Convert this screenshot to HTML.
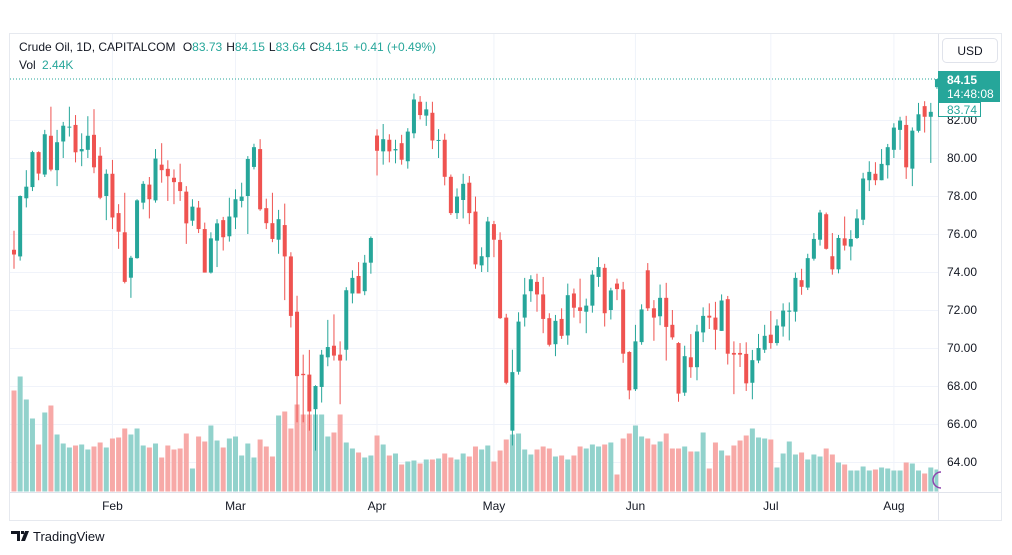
<!DOCTYPE html>
<html><head><meta charset="utf-8">
<style>
body{margin:0;background:#fff;width:1012px;height:555px;overflow:hidden;font-family:"Liberation Sans",sans-serif;}
svg{position:absolute;left:0;top:0}
</style></head>
<body>
<svg id="chart" width="1012" height="555">
  <rect x="9.5" y="33.5" width="992" height="487" fill="#fff" stroke="#e6e9ef"/>
  <g id="grid"></g>
  <defs><clipPath id="plot"><rect x="10" y="34" width="928" height="458"/></clipPath></defs>
  <g id="vols" clip-path="url(#plot)"></g>
  <g id="candles" clip-path="url(#plot)"></g>
  <line x1="10" y1="79" x2="938" y2="79" stroke="#26a69a" stroke-dasharray="1,2"/>
  <line x1="938.5" y1="34" x2="938.5" y2="520" stroke="#e0e3eb"/>
  <line x1="10" y1="492.5" x2="1001" y2="492.5" stroke="#e0e3eb"/>
  <g id="yaxis"></g>
  <g id="xaxis"></g>
  <rect x="942.5" y="38.5" width="55" height="24" rx="4" fill="#fff" stroke="#e0e3eb"/>
  <text x="970" y="55" font-size="12" fill="#131722" text-anchor="middle">USD</text>
  <rect x="938" y="71" width="62" height="31" fill="#26a69a"/>
  <text x="947" y="84" font-size="12" fill="#fff" font-weight="bold">84.15</text>
  <text x="947" y="98" font-size="12" fill="#fff">14:48:08</text>
  <rect x="938.5" y="102.5" width="42" height="14" fill="#fff" stroke="#26a69a"/>
  <text x="947" y="114" font-size="12" fill="#26a69a">83.74</text>
  <path d="M941 472 A8 8 0 0 0 941 488" fill="none" stroke="#8e44ad" stroke-width="1.5"/>
  <text x="19" y="51" font-size="12" fill="#131722">Crude Oil, 1D, CAPITALCOM <tspan dx="4">O</tspan><tspan fill="#26a69a">83.73</tspan><tspan dx="4">H</tspan><tspan fill="#26a69a">84.15</tspan><tspan dx="4">L</tspan><tspan fill="#26a69a">83.64</tspan><tspan dx="4">C</tspan><tspan fill="#26a69a">84.15</tspan><tspan dx="5" fill="#26a69a">+0.41 (+0.49%)</tspan></text>
  <text x="19" y="69" font-size="12" fill="#131722">Vol <tspan dx="3" fill="#26a69a">2.44K</tspan></text>
  <g>
    <path d="M11 531h9v10h-3v-7h-6z M21 531h3v3h-3z M25 531h4l-4 10h-4z" fill="#131722"/>
    <text x="33" y="541" font-size="13" fill="#131722">TradingView</text>
  </g>
</svg>
<script>
const opens=[75.17,74.82,77.88,78.47,80.31,79.13,81.17,79.36,80.87,81.6,81.74,80.35,80.43,81.22,80.12,78.0,79.17,77.1,76.09,73.7,74.73,77.65,78.6,77.77,79.65,79.43,78.96,78.73,78.23,76.7,77.39,76.26,73.97,75.65,76.73,75.88,76.87,77.74,78.0,79.53,80.47,77.36,76.57,75.7,76.47,74.82,71.91,68.64,68.6,66.78,67.95,69.51,70.12,69.65,69.91,72.87,73.79,72.99,74.49,81.18,80.35,80.96,80.4,80.78,79.83,81.3,82.96,82.23,82.38,80.9,80.96,79.01,77.1,77.79,78.7,77.18,74.35,74.78,76.52,75.69,71.6,65.65,68.75,71.6,72.99,73.48,72.82,71.57,70.2,71.53,70.66,72.87,72.14,71.91,72.23,73.74,74.22,72.0,73.39,73.08,69.79,67.83,70.31,74.09,72.09,71.67,72.64,71.22,70.26,67.65,69.51,68.99,70.82,71.7,71.6,70.9,72.57,69.74,69.74,69.69,68.17,69.34,69.91,70.7,70.26,71.13,71.91,71.91,73.57,73.18,74.7,75.7,77.04,74.83,74.14,75.77,75.34,75.79,76.75,78.83,79.17,78.83,79.62,80.43,81.48,81.74,79.44,81.43,82.73,82.17,83.73];
const highs=[76.17,78.03,79.36,80.38,80.35,81.48,82.7,81.48,81.9,82.7,82.26,81.3,82.2,82.57,80.57,79.4,79.9,77.57,78.17,74.85,77.83,78.78,79.0,80.47,80.78,79.88,79.4,79.7,78.52,77.83,77.74,76.6,76.09,76.78,76.9,77.91,78.35,78.7,80.1,80.75,80.99,77.86,78.17,77.27,77.6,75.04,72.75,69.65,69.9,68.04,69.9,71.48,71.77,70.35,73.2,74.09,74.52,74.9,75.87,81.51,81.79,81.25,80.96,81.22,81.57,83.39,83.26,82.96,82.96,81.52,81.28,79.13,78.4,79.17,79.05,77.97,75.3,76.9,76.69,76.09,71.8,69.91,71.88,73.69,73.83,73.91,73.74,71.83,71.74,72.09,73.39,73.13,73.65,72.6,74.09,74.78,74.43,73.17,73.65,73.48,69.83,71.22,72.3,74.47,72.52,73.34,73.43,72.0,70.31,70.12,70.73,71.22,72.14,72.35,72.43,72.82,72.74,70.35,70.26,70.3,69.9,70.74,71.22,71.95,71.51,72.35,72.4,73.97,74.17,74.96,76.05,77.27,77.13,76.05,75.95,76.92,76.2,77.3,79.22,79.83,79.78,80.47,80.74,81.83,82.17,82.22,81.61,82.9,82.99,82.9,84.15];
const lows=[74.17,74.6,77.4,78.26,78.83,79.0,79.3,78.52,80.0,81.13,79.77,79.57,80.0,79.2,77.83,76.73,76.26,75.22,73.4,72.64,74.7,77.3,76.82,77.65,78.7,77.74,77.57,77.74,75.48,76.43,76.05,73.97,73.92,74.26,75.13,75.6,76.26,77.4,76.0,79.4,77.22,76.26,75.57,74.96,72.52,71.08,66.09,66.09,65.65,64.6,67.13,69.04,69.34,67.04,69.34,72.35,72.87,72.78,73.91,79.08,79.65,79.77,79.72,79.65,79.44,81.04,82.03,81.69,80.47,80.0,78.56,77.0,76.79,76.82,76.52,74.17,74.0,74.0,74.78,71.53,68.09,64.87,68.6,71.13,72.43,71.91,70.78,70.08,69.57,70.48,70.17,71.6,71.3,70.78,71.86,73.22,71.13,71.5,72.52,69.22,67.3,67.74,70.17,71.95,70.38,71.2,69.34,70.44,67.17,67.48,68.43,68.3,70.31,71.0,69.91,70.9,69.13,67.57,69.0,67.74,67.3,69.2,69.74,69.96,70.13,70.6,70.4,71.39,72.8,73.05,74.6,75.39,75.18,73.86,73.93,75.13,74.61,75.74,76.47,78.26,78.57,78.83,78.92,80.0,80.43,78.9,78.52,81.34,81.34,79.74,83.64];
const closes=[74.92,78.0,78.49,80.31,79.18,81.25,79.39,80.83,81.7,81.65,80.3,80.47,81.17,79.51,77.91,79.17,76.87,76.12,73.48,74.75,77.77,78.64,77.83,79.97,79.36,79.04,78.73,78.26,76.56,77.44,76.26,73.97,75.77,76.56,75.83,76.92,77.83,77.97,79.95,80.57,77.3,76.57,75.74,76.78,74.82,71.69,68.52,68.57,66.66,68.0,69.65,70.05,69.6,69.34,73.04,73.69,72.87,74.49,75.79,80.38,80.99,80.35,80.47,79.91,81.39,83.08,82.26,82.56,80.92,80.95,79.01,77.1,77.97,78.64,77.1,74.4,74.83,76.66,75.7,71.57,68.17,68.73,71.39,72.82,73.62,72.82,71.53,70.17,71.43,70.64,72.78,72.12,71.95,72.23,73.86,74.26,71.83,73.03,73.1,69.7,67.77,70.35,72.03,72.09,71.6,72.64,71.11,70.56,67.6,69.57,68.99,70.87,71.69,71.6,70.96,72.5,69.7,69.65,69.65,68.14,69.36,70.0,70.64,70.26,71.18,71.97,71.97,73.69,73.22,74.73,75.74,77.13,75.22,74.14,75.79,75.39,75.74,76.82,78.92,79.27,78.83,79.69,80.57,81.6,81.97,79.51,81.44,82.3,82.17,82.43,84.15];
const volumes=[10.1,11.5,9.2,7.3,4.7,7.9,8.6,5.7,4.8,4.4,4.6,4.7,4.2,4.5,4.9,4.4,5.3,5.4,6.3,5.7,6.3,4.6,4.4,4.8,3.4,4.6,4.2,4.3,5.8,2.3,5.5,5.0,6.6,5.1,4.4,5.3,5.5,3.6,4.8,3.4,5.2,4.5,3.5,7.6,8.0,6.3,8.7,7.7,7.7,7.7,7.7,5.5,5.9,7.7,4.9,4.3,3.9,3.4,3.6,5.6,4.7,3.6,3.8,2.7,3.0,3.1,2.8,3.2,3.2,3.3,3.8,3.4,3.2,3.8,3.5,4.5,4.2,4.6,3.0,4.1,5.2,5.7,5.8,4.2,3.7,4.2,4.5,4.3,3.5,3.6,3.2,3.6,4.5,4.3,4.7,4.5,4.7,4.9,1.7,5.3,5.8,6.6,5.5,5.3,4.7,5.0,5.8,4.3,4.3,4.5,4.0,4.0,5.9,2.3,4.9,4.1,3.6,4.6,5.1,5.6,6.3,5.4,5.3,5.2,2.4,3.8,5.0,3.7,3.9,3.2,3.7,3.5,4.3,3.7,2.9,2.7,2.1,2.1,2.5,2.1,2.2,2.4,2.3,2.1,2.1,2.9,2.8,2.1,1.8,2.4,2.2];
const priceTicks=[82,80,78,76,74,72,70,68,66,64];
const monthLabels=["Feb","Mar","Apr","May","Jun","Jul","Aug"];
const monthIndex=[16,36,59,78,101,123,143];

const NS="http://www.w3.org/2000/svg";
const x0=14, step=6.153;
function xOf(i){return x0+i*step;}
function yOf(p){return 158+(80-p)*19;}
const volBase=491.5, volScale=10;
function vY(v){return volBase-v*volScale;}
function mk(tag,attrs,parent){const e=document.createElementNS(NS,tag);for(const k in attrs)e.setAttribute(k,attrs[k]);parent.appendChild(e);return e;}

const grid=document.getElementById('grid');
const yaxis=document.getElementById('yaxis');
priceTicks.forEach(p=>{
  const l=mk('line',{x1:10,x2:938,y1:yOf(p)+0.5,y2:yOf(p)+0.5,stroke:'#f0f3fa'},grid);
  
  
  const t=mk('text',{x:947,y:yOf(p)+4,'font-size':12,fill:'#131722'},yaxis);
  t.textContent=p.toFixed(2);
  
  
});
const xaxis=document.getElementById('xaxis');
monthLabels.forEach((m,k)=>{
  const x=xOf(monthIndex[k]);
  const l=mk('line',{x1:x,x2:x,y1:34,y2:492,stroke:'#f0f3fa'},grid);
  
  
  const t=mk('text',{x:x,y:510,'font-size':12,fill:'#131722','text-anchor':'middle'},xaxis);
  t.textContent=m;
  
  
});
const vg=document.getElementById('vols'), cg=document.getElementById('candles');
opens.forEach((o,i)=>{
  const c=closes[i], up=c>=o, x=xOf(i);
  const v=mk('rect',{x:x-2.5,y:vY(volumes[i]),width:5,height:volumes[i]*volScale,fill:up?'#92d2cc':'#f7a9a7'},vg);
  
  
  const col=up?'#26a69a':'#ef5350';
  const w=mk('line',{x1:x,x2:x,y1:yOf(highs[i]),y2:yOf(lows[i]),stroke:col,'stroke-width':1},cg);
  
  
  const top=yOf(Math.max(o,c)), bot=yOf(Math.min(o,c));
  const b=mk('rect',{x:x-2,y:top,width:4,height:Math.max(1,bot-top),fill:col},cg);
  
  
});
</script>
</body></html>
